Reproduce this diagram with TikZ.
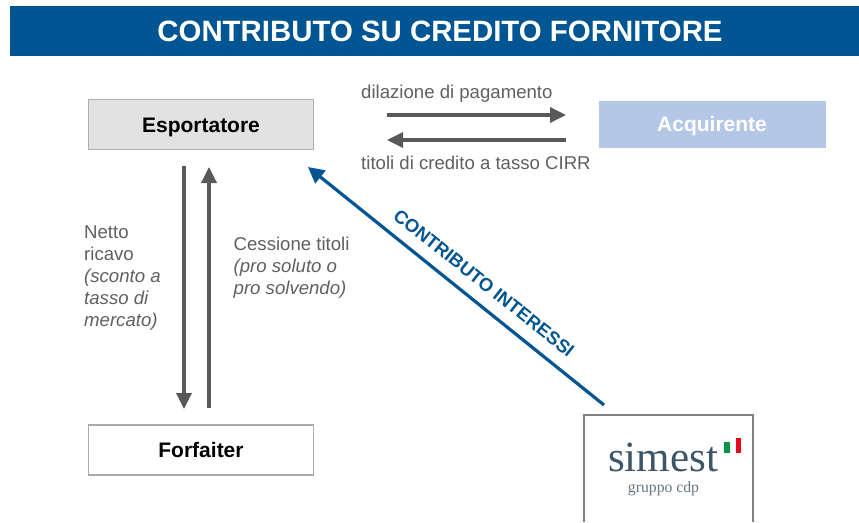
\documentclass[tikz,border=0pt]{standalone}
\usepackage{fontspec}
\setmainfont{Liberation Sans}
\newfontfamily\logofont{Liberation Serif}
\usetikzlibrary{arrows.meta}
\definecolor{bluebar}{RGB}{0,85,146}
\definecolor{greyarrow}{RGB}{89,89,89}
\definecolor{greytext}{RGB}{96,96,96}
\definecolor{logotext}{RGB}{62,84,104}
\definecolor{acqfill}{RGB}{180,199,231}
\definecolor{espfill}{RGB}{226,226,226}
\definecolor{espline}{RGB}{175,175,175}
\definecolor{forline}{RGB}{170,170,170}
\definecolor{simline}{RGB}{128,128,128}
\definecolor{flaggreen}{RGB}{0,150,70}
\definecolor{flagred}{RGB}{228,10,30}
\tikzset{
  x=1pt,y=-1pt,
  box/.style={draw=#1,line width=1.4pt,minimum width=225pt,minimum height=50pt,inner sep=0pt},
  boxfont/.style={font=\fontsize{21}{24}\selectfont\bfseries,text height=15pt,text depth=0pt},
  lab/.style={text=greytext,font=\fontsize{18.6}{22}\selectfont,align=left,inner sep=0pt},
  flow/.style={draw=greyarrow,line width=3.4pt,-{Triangle[length=16pt,width=15pt]}},
  blueflow/.style={draw=bluebar,line width=3.2pt,-{Triangle[length=16pt,width=16pt]}},
}
\begin{document}
\begin{tikzpicture}
\useasboundingbox (0,0) rectangle (859,522);
\fill[white] (0,0) rectangle (859,522);
\node[fill=bluebar,text=white,minimum width=849pt,minimum height=50pt,inner sep=0pt,text height=21pt,text depth=0pt,font=\fontsize{29.4}{30}\selectfont\bfseries] (title) at (434.5,31) {\hspace*{11pt}CONTRIBUTO SU CREDITO FORNITORE};
\node[box=espline,fill=espfill,boxfont] (esp) at (201,124.5) {Esportatore};
\node[fill=acqfill,minimum width=227pt,minimum height=47pt,inner sep=0pt,text=white,boxfont] (acq) at (712,124) {Acquirente};
\node[box=forline,boxfont] (forf) at (201,450) {Forfaiter};
% SIMEST logo box, open at the bottom
\draw[simline,line width=2pt] (584,522) -- (584,414.5) -- (753,414.5) -- (753,522);
\node[text=logotext,inner sep=0pt,anchor=base,font=\logofont\fontsize{43}{45}\selectfont] (simest) at (663,471.5) {simest};
\node[text=logotext!80,inner sep=0pt,anchor=base,font=\logofont\fontsize{15.7}{17}\selectfont] (cdp) at (663.5,492) {gruppo cdp};
\fill[flaggreen] (724,442) rectangle (730,453);
\fill[flagred] (735.5,438) rectangle (741,453);
% connectors
\coordinate (t1a) at (387,115); \coordinate (t1b) at (566,115);
\coordinate (t2a) at (566,140); \coordinate (t2b) at (387,140);
\coordinate (d1a) at (184,166); \coordinate (d1b) at (184,409);
\coordinate (u1a) at (209,408); \coordinate (u1b) at (209,167);
\coordinate (bla) at (604,405); \coordinate (blb) at (308,167);
\draw[flow] (t1a) -- (t1b);
\draw[flow] (t2a) -- (t2b);
\draw[flow] (d1a) -- (d1b);
\draw[flow] (u1a) -- (u1b);
\draw[blueflow] (bla) -- (blb);
% labels
\node[lab,anchor=base west] (l1) at (361,98.5) {dilazione di pagamento};
\node[lab,anchor=base west] (l2) at (361,169) {titoli di credito a tasso CIRR};
\node[lab,anchor=north west] (l3) at (84,225) {Netto\\ricavo\\\textit{(sconto a}\\\textit{tasso di}\\\textit{mercato)}};
\node[lab,anchor=north west] (l4) at (233.5,237) {Cessione titoli\\\textit{(pro soluto o}\\\textit{pro solvendo)}};
\node[text=bluebar,inner sep=0pt,rotate=-38.5,font=\fontsize{18.4}{20}\selectfont\bfseries] (l5) at (484,283) {CONTRIBUTO INTERESSI};
\end{tikzpicture}
\end{document}
